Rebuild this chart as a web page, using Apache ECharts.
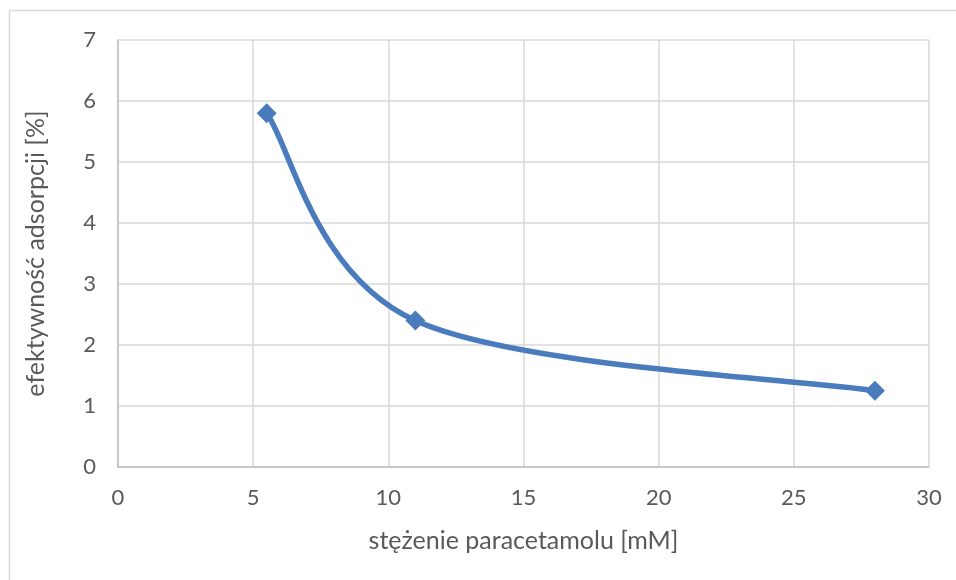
<!DOCTYPE html>
<html>
<head>
<meta charset="utf-8">
<script src="https://cdn.jsdelivr.net/npm/echarts@6/dist/echarts.min.js"></script>
<style>
    html, body { margin: 0; padding: 0; background: #fff; }
    #chart { width: 956px; height: 580px; }
</style>
</head>
<body>
<div id="chart"></div>
<script>
// stężenie paracetamolu [mM] vs efektywność adsorpcji [%]
const concentration = [5.5, 11, 28];
const efficiency = [5.8, 2.4, 1.25];

const xTitle = 'stężenie paracetamolu [mM]';
const yTitle = 'efektywność adsorpcji [%]';

const textColor = '#595959';
const gridColor = '#d9d9d9';
const lineColor = '#4a7bbd';
const fontFamily = 'Lato, "Open Sans", sans-serif';

const points = concentration.map((x, i) => [x, efficiency[i]]);

// smoothed line drawn like a spreadsheet does it (Catmull-Rom, tension 1/6)
function renderCurve(params, api) {
    const p = points.map(v => api.coord(v));
    const n = p.length;
    const children = [];
    for (let i = 0; i < n - 1; i++) {
        const p0 = p[Math.max(i - 1, 0)];
        const p1 = p[i];
        const p2 = p[i + 1];
        const p3 = p[Math.min(i + 2, n - 1)];
        children.push({
            type: 'bezierCurve',
            shape: {
                x1: p1[0], y1: p1[1],
                cpx1: p1[0] + (p2[0] - p0[0]) / 6,
                cpy1: p1[1] + (p2[1] - p0[1]) / 6,
                cpx2: p2[0] - (p3[0] - p1[0]) / 6,
                cpy2: p2[1] - (p3[1] - p1[1]) / 6,
                x2: p2[0], y2: p2[1]
            },
            style: { stroke: lineColor, fill: null, lineWidth: 5.5, lineCap: 'round' }
        });
    }
    return { type: 'group', children: children };
}

const chart = echarts.init(document.getElementById('chart'));

const option = {
    animation: false,
    textStyle: { fontFamily: fontFamily },
    grid: {
        left: 118,
        right: 27,
        top: 40,
        bottom: 113
    },
    xAxis: {
        type: 'value',
        min: 0,
        max: 30,
        interval: 5,
        name: xTitle,
        nameLocation: 'middle',
        nameGap: 61,
        nameTextStyle: { color: textColor, fontSize: 25, fontFamily: fontFamily },
        axisLine: { show: true, lineStyle: { color: '#bfbfbf', width: 1.5 } },
        axisTick: { show: false },
        axisLabel: { color: textColor, fontSize: 22, margin: 20, fontFamily: fontFamily },
        splitLine: { show: true, lineStyle: { color: gridColor, width: 1.5 } }
    },
    yAxis: {
        type: 'value',
        min: 0,
        max: 7,
        interval: 1,
        name: yTitle,
        nameLocation: 'middle',
        nameGap: 70,
        nameTextStyle: { color: textColor, fontSize: 25, fontFamily: fontFamily },
        axisLine: { show: true, lineStyle: { color: '#bfbfbf', width: 1.5 } },
        axisTick: { show: false },
        axisLabel: { color: textColor, fontSize: 22, margin: 22, fontFamily: fontFamily },
        splitLine: { show: true, lineStyle: { color: gridColor, width: 1.5 } }
    },
    graphic: [
        {
            type: 'line',
            shape: { x1: 9.5, y1: 10, x2: 9.5, y2: 580 },
            style: { stroke: gridColor, lineWidth: 1.5 }
        },
        {
            type: 'line',
            shape: { x1: 9, y1: 10.5, x2: 956, y2: 10.5 },
            style: { stroke: gridColor, lineWidth: 1.5 }
        }
    ],
    series: [
        {
            type: 'custom',
            renderItem: renderCurve,
            data: [points[0]],
            silent: true,
            z: 2
        },
        {
            type: 'scatter',
            data: points,
            symbol: 'diamond',
            symbolSize: 20,
            itemStyle: { color: lineColor, opacity: 1 },
            z: 3
        }
    ]
};

chart.setOption(option);
</script>
</body>
</html>
